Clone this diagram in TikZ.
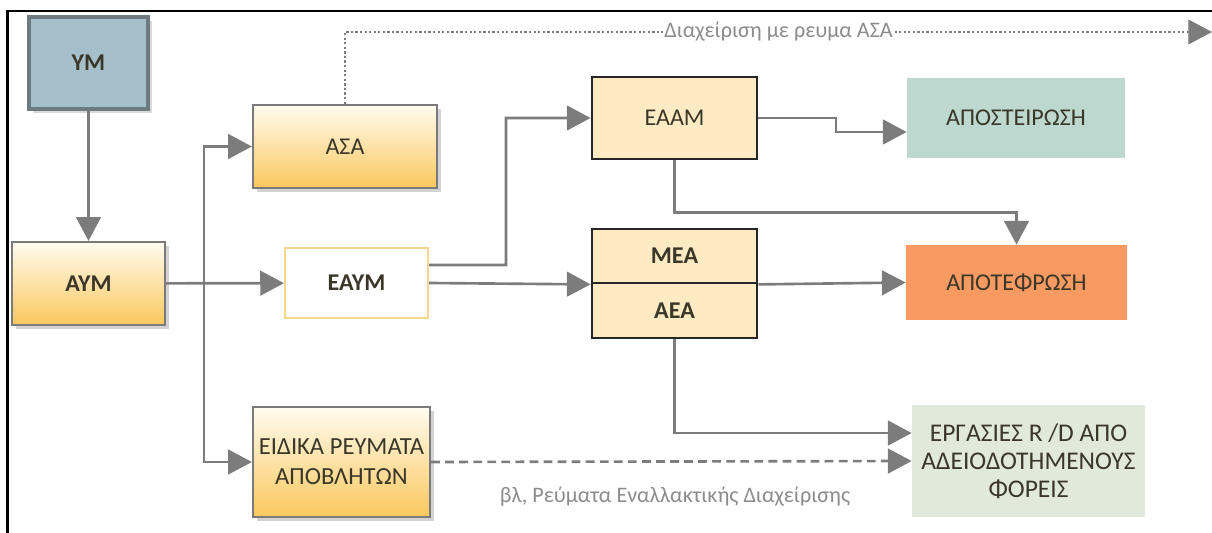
\documentclass[tikz,border=0pt]{standalone}
\usepackage{fontspec}
\setmainfont{Carlito}
\usepackage{xcolor}
\usepackage{tikz}
\tikzset{>=latex}
\usetikzlibrary{arrows.meta, shadows}

\definecolor{ymblue}{HTML}{A6C0CB}
\definecolor{ymframe}{HTML}{6D7A80}
\definecolor{boxgray}{HTML}{7A7A7A}
\definecolor{goldtop}{HTML}{FFFBEE}
\definecolor{goldbot}{HTML}{FAC85E}
\definecolor{creamfill}{HTML}{FEEBC4}
\definecolor{lightframe}{HTML}{F6D58F}
\definecolor{sterilgreen}{HTML}{BDD8CF}
\definecolor{burnorange}{HTML}{F99A62}
\definecolor{paleolive}{HTML}{E1E9DA}
\definecolor{linegray}{HTML}{7C7C7C}
\definecolor{labelgray}{HTML}{8C8C8C}
\definecolor{textdark}{HTML}{3A3729}

\begin{document}
\begin{tikzpicture}[x=0.02cm, y=-0.02cm,
    every node/.style={font=\fontsize{13.7}{16}\selectfont, text=textdark, align=center, inner sep=2pt},
    ymbox/.style={rectangle, draw=ymframe, line width=2.8pt, fill=ymblue,
        drop shadow={shadow xshift=2pt, shadow yshift=-2pt, opacity=0.3}},
    goldbox/.style={rectangle, draw=boxgray, line width=1.3pt, top color=goldtop, bottom color=goldbot,
        drop shadow={shadow xshift=2.5pt, shadow yshift=-2.5pt, opacity=0.35}},
    plainbox/.style={rectangle, draw=lightframe, line width=1.2pt, fill=white},
    creambox/.style={rectangle, draw=black!85, line width=1.6pt, fill=creamfill},
    endbox/.style={rectangle, fill=#1},
    flow/.style={draw=linegray, line width=1.5pt, -{Triangle[length=13.5pt, width=14pt]}},
    dashflow/.style={flow, dash pattern=on 5pt off 3pt},
    dotflow/.style={flow, line width=1.3pt, dash pattern=on 1.3pt off 1.3pt},
    notelabel/.style={text=labelgray, fill=white, inner sep=1pt, font=\fontsize{12.6}{15}\selectfont}
]

    \useasboundingbox (0,0) rectangle (1212,533);

    % Frame
    \draw[line width=1.7pt] (7.5,533) -- (7.5,11) -- (1212,11);

    % Left column
    \node[ymbox, minimum width=2.38cm, minimum height=1.84cm] (ym) at (88.5,63) {\bfseries ΥΜ};
    \node[goldbox, minimum width=3.06cm, minimum height=1.66cm] (aym) at (88.5,283.5) {\bfseries ΑΥΜ};

    % Middle column
    \node[goldbox, minimum width=3.68cm, minimum height=1.66cm] (asa) at (345,146.5) {ΑΣΑ};
    \node[plainbox, minimum width=2.86cm, minimum height=1.40cm] (eaym) at (356.5,283) {\bfseries ΕΑΥΜ};
    \node[goldbox, minimum width=3.54cm, minimum height=2.2cm,
        font=\fontsize{14}{17}\selectfont] (eidika) at (341.5,462) {ΕΙΔΙΚΑ ΡΕΥΜΑΤΑ\\ΑΠΟΒΛΗΤΩΝ};

    % Treatment
    \node[creambox, minimum width=3.3cm, minimum height=1.64cm] (eaam) at (674.5,118) {ΕΑΑΜ};
    \node[creambox, minimum width=3.3cm, minimum height=1.08cm] (mea) at (674.5,256) {\bfseries ΜΕΑ};
    \node[creambox, minimum width=3.3cm, minimum height=1.10cm] (aea) at (674.5,310.5) {\bfseries ΑΕΑ};

    % Final
    \node[endbox=sterilgreen, minimum width=4.36cm, minimum height=1.6cm] (apost) at (1016,118) {ΑΠΟΣΤΕΙΡΩΣΗ};
    \node[endbox=burnorange, minimum width=4.42cm, minimum height=1.5cm] (apotef) at (1016.5,282.5) {ΑΠΟΤΕΦΡΩΣΗ};
    \node[endbox=paleolive, minimum width=4.66cm, minimum height=2.24cm,
        font=\fontsize{14.5}{16}\selectfont] (ergasies) at (1028.5,461) {ΕΡΓΑΣΙΕΣ R /D ΑΠΟ\\ΑΔΕΙΟΔΟΤΗΜΕΝΟΥΣ\\ΦΟΡΕΙΣ};

    \coordinate (split) at (204,283);
    \coordinate (asaout) at (1212,32);

    % Flows
    \draw[flow] (ym) -- (aym);
    \draw[flow] (aym) -- (eaym);
    \draw[flow] (split) |- (asa);
    \draw[flow] (split) |- (eidika);
    \draw[flow] ([yshift=0.36cm]eaym.east) -- (506,265) |- (eaam);
    \draw[flow] (eaym.east) -- (mea.south west);
    \draw[flow] (mea.south east) -- (apotef.west);
    \draw[flow] (eaam.east) -- (836,118) |- ([yshift=-0.28cm]apost.west);
    \draw[flow] (eaam.south) -- ++(0,52) -| (apotef.north);
    \draw[flow] (aea.south) |- ([yshift=0.56cm]ergasies.west);
    \draw[dashflow] (eidika.east) -- (ergasies.west);
    \draw[dotflow] (asa.north) -- (345,32) -- node[notelabel] (asanote) {Διαχείριση με ρευμα ΑΣΑ} (asaout);

    \node[notelabel] (altnote) at (675,497) {βλ, Ρεύματα Εναλλακτικής Διαχείρισης};

\end{tikzpicture}
\end{document}
